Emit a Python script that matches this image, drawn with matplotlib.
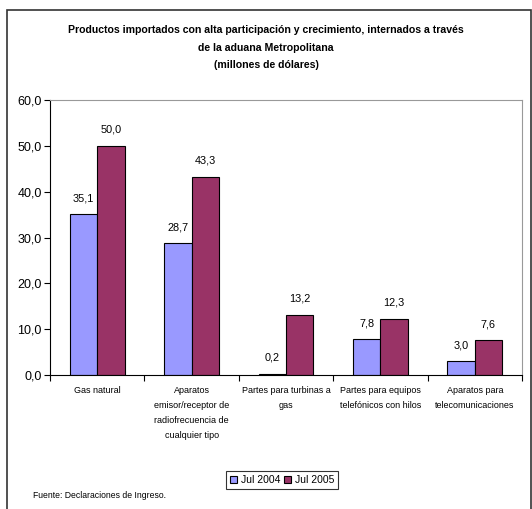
import matplotlib.pyplot as plt
import numpy as np

plt.rcParams['font.family'] = ['Liberation Sans', 'DejaVu Sans']

# Datos
categorias = ["Gas natural",
              "Aparatos\nemisor/receptor de\nradiofrecuencia de\ncualquier tipo",
              "Partes para turbinas a\ngas",
              "Partes para equipos\ntelefónicos con hilos",
              "Aparatos para\ntelecomunicaciones"]
jul_2004 = [35.1, 28.7, 0.2, 7.8, 3.0]
jul_2005 = [50.0, 43.3, 13.2, 12.3, 7.6]
series = ["Jul 2004", "Jul 2005"]
y_ticks = [0, 10, 20, 30, 40, 50, 60]

def coma(v):
    return f"{v:.1f}".replace(".", ",")

fig = plt.figure(figsize=(5.32, 5.09), dpi=100)

# marco exterior
fig.patches.append(plt.Rectangle((7 / 532, -0.01), 524 / 532, 1 - 10 / 509 + 0.01,
                                 transform=fig.transFigure, fill=False,
                                 edgecolor='#333333', linewidth=1.2))

ax = fig.add_axes([50 / 532, 1 - 375 / 509, 472 / 532, 275 / 509])

x = np.arange(len(categorias))
w = 0.29
b1 = ax.bar(x - w / 2, jul_2004, w, color='#9999FF', edgecolor='black', linewidth=0.8, label=series[0])
b2 = ax.bar(x + w / 2, jul_2005, w, color='#993366', edgecolor='black', linewidth=0.8, label=series[1])

for bars, vals in ((b1, jul_2004), (b2, jul_2005)):
    for r, v in zip(bars, vals):
        ax.annotate(coma(v), (r.get_x() + r.get_width() / 2, v), xytext=(0, 8),
                    textcoords='offset points', ha='center', va='bottom', fontsize=7.8)

ax.set_xlim(-0.5, len(categorias) - 0.5)
ax.set_ylim(0, 60)
ax.set_yticks(y_ticks)
ax.set_yticklabels([coma(v) for v in y_ticks], fontsize=9)
ax.set_xticks(x)
ax.set_xticklabels(categorias, fontsize=6.5, linespacing=1.85)
ax.tick_params(axis='x', length=0, pad=8)
ax.set_xticks(np.arange(len(categorias) + 1) - 0.5, minor=True)
ax.tick_params(axis='x', which='minor', length=4, width=0.8)
ax.tick_params(axis='y', length=4, width=0.8, pad=2)

for s in ('top', 'right'):
    ax.spines[s].set_color('#999999')
    ax.spines[s].set_linewidth(0.8)
for s in ('left', 'bottom'):
    ax.spines[s].set_linewidth(0.8)

fig.text(0.5, 1 - 25 / 509,
         "Productos importados con alta participación y crecimiento, internados a través\n"
         "de la aduana Metropolitana\n(millones de dólares)",
         ha='center', va='top', fontsize=7.6, fontweight='bold', linespacing=1.95)

leg = fig.legend(loc='center', bbox_to_anchor=(282 / 532, 1 - 480 / 509), ncol=2,
                 fontsize=7.5, frameon=True, fancybox=False, edgecolor='black',
                 handlelength=0.7, handleheight=0.7, handletextpad=0.3, columnspacing=0.4,
                 borderpad=0.35)
leg.get_frame().set_linewidth(0.8)

fig.text(33 / 532, 1 - 495 / 509, "Fuente: Declaraciones de Ingreso.", fontsize=6.2,
         ha='left', va='center')

fig.savefig("out.png", dpi=100)
